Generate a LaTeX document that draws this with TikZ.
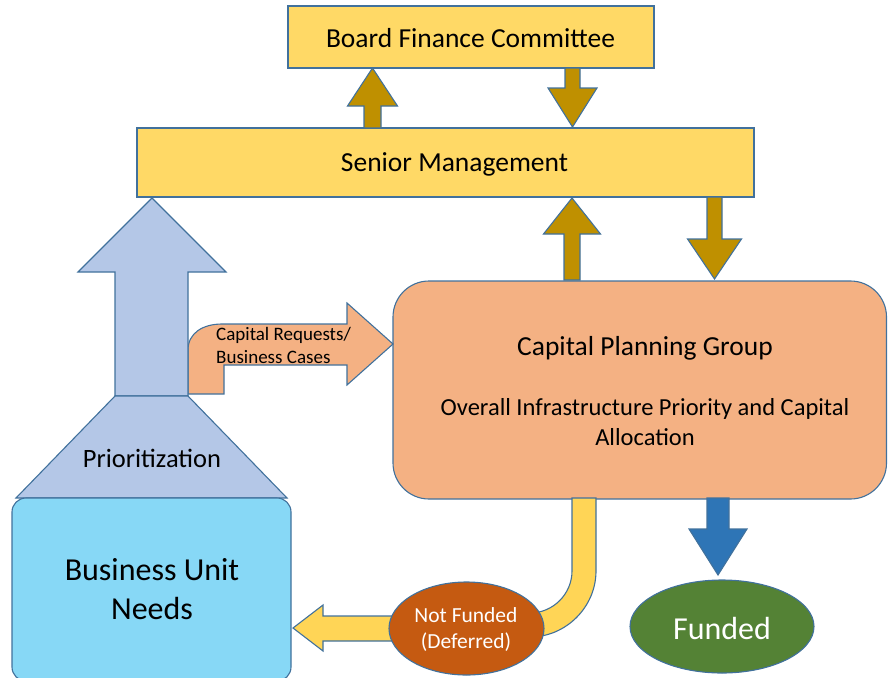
\documentclass[tikz,border=0pt]{standalone}
\usepackage{fontspec}
\setmainfont{Carlito}
\usetikzlibrary{shapes.geometric}
\definecolor{edgeblue}{HTML}{41719C}
\definecolor{boxyellow}{HTML}{FFD966}
\definecolor{gold}{HTML}{BF9000}
\definecolor{lavblue}{HTML}{B4C7E7}
\definecolor{peach}{HTML}{F4B183}
\definecolor{skyblue}{HTML}{87D8F6}
\definecolor{pipeyellow}{HTML}{FFD556}
\definecolor{rust}{HTML}{C55A11}
\definecolor{fundblue}{HTML}{2E75B6}
\definecolor{fundgreen}{HTML}{548235}
\newcommand{\vblockarrow}[7]{% color, xc, ystart, yheadbase, ytip, shaft half, head half
  \filldraw[shapeedge, fill=#1]
    ({#2-#6},#3) -- ({#2-#6},#4) -- ({#2-#7},#4) -- (#2,#5) -- ({#2+#7},#4) -- ({#2+#6},#4) -- ({#2+#6},#3) -- cycle;}
\begin{document}
\begin{tikzpicture}[x=1pt,y=-1pt,line join=miter,
  shapeedge/.style={draw=edgeblue, line width=1.1pt},
  ybox/.style={shapeedge, fill=boxyellow, rectangle, inner sep=0pt},
  txt/.style={inner sep=0pt, align=center, text=black}]
\useasboundingbox (0,0) rectangle (888,677);

% Boxes
\node[ybox, minimum width=366, minimum height=62] (bfc) at (471,37) {};
\node[txt, font=\fontsize{27.5}{33}\selectfont] (bfct) at (470.5,38) {Board Finance Committee};
\node[ybox, minimum width=617, minimum height=69] (sm) at (445.5,162.5) {};
\node[txt, font=\fontsize{27.5}{33}\selectfont] (smt) at (454.5,164) {Senior Management};

% Capital planning group
\filldraw[shapeedge, fill=peach, rounded corners=36pt] (393,281) rectangle (886.5,499);
\node[txt, font=\fontsize{27.5}{33}\selectfont] (cpg) at (645,348) {Capital Planning Group};
\node[txt, font=\fontsize{24.5}{30}\selectfont] (cpgt) at (645,422) {Overall Infrastructure Priority and Capital\\Allocation};

% Gold arrows
\vblockarrow{gold}{372.5}{128}{106}{68}{8.5}{25}
\vblockarrow{gold}{572.5}{68}{88}{127}{7.5}{24.5}
\vblockarrow{gold}{572}{280}{234}{198}{8}{28.5}
\vblockarrow{gold}{714.5}{197}{239}{279}{7.5}{27}

% Orange bent arrow
\filldraw[shapeedge, fill=peach]
  (188,394) -- (224,394) -- (224,365) -- (347,365) -- (347,385) -- (393,344) -- (347,303) -- (347,324) -- (222,324)
  .. controls (203,324) and (188,333) .. (188,350) -- cycle;
\node[txt, anchor=west, align=left, font=\fontsize{19}{23}\selectfont] (req) at (216,345) {Capital Requests/\\Business Cases};

% Blue up arrow and prioritization trapezoid
\filldraw[shapeedge, fill=lavblue]
  (152,198) -- (226,272) -- (188,272) -- (188,396) -- (115,396) -- (115,272) -- (78,272) -- cycle;
\filldraw[shapeedge, fill=lavblue] (115,396) -- (188,396) -- (287,498) -- (16,498) -- cycle;
\node[txt, font=\fontsize{26.5}{32}\selectfont] (prio) at (152,458) {Prioritization};

% Business unit needs
\filldraw[shapeedge, fill=skyblue, rounded corners=14pt] (12,498) rectangle (291,681);
\node[txt, font=\fontsize{32}{39}\selectfont] (bun) at (152,589) {Business Unit\\Needs};

% Yellow pipe and left arrow
\filldraw[shapeedge, fill=pipeyellow]
  (572,498) -- (596,498) -- (596,571) .. controls (596,607) and (566,637) .. (530,637) -- (470,637) -- (470,613) -- (530,613)
  .. controls (553,613) and (572,594) .. (572,571) -- cycle;
\filldraw[shapeedge, fill=pipeyellow]
  (470,616) -- (323,616) -- (323,605) -- (293,628) -- (323,651) -- (323,641) -- (470,641) -- cycle;
\node[ellipse, shapeedge, fill=rust, minimum width=155, minimum height=93, inner sep=0pt] (nf) at (466.5,628.5) {};
\node[txt, text=white, font=\fontsize{21.5}{26}\selectfont] (nft) at (466,630) {Not Funded\\(Deferred)};

% Funded
\vblockarrow{fundblue}{718}{498}{529}{575}{11}{29}
\node[ellipse, shapeedge, fill=fundgreen, minimum width=184, minimum height=93, inner sep=0pt] (fd) at (722,626.5) {};
\node[txt, text=white, font=\fontsize{32}{39}\selectfont] (fdt) at (722,628) {Funded};
\end{tikzpicture}
\end{document}
